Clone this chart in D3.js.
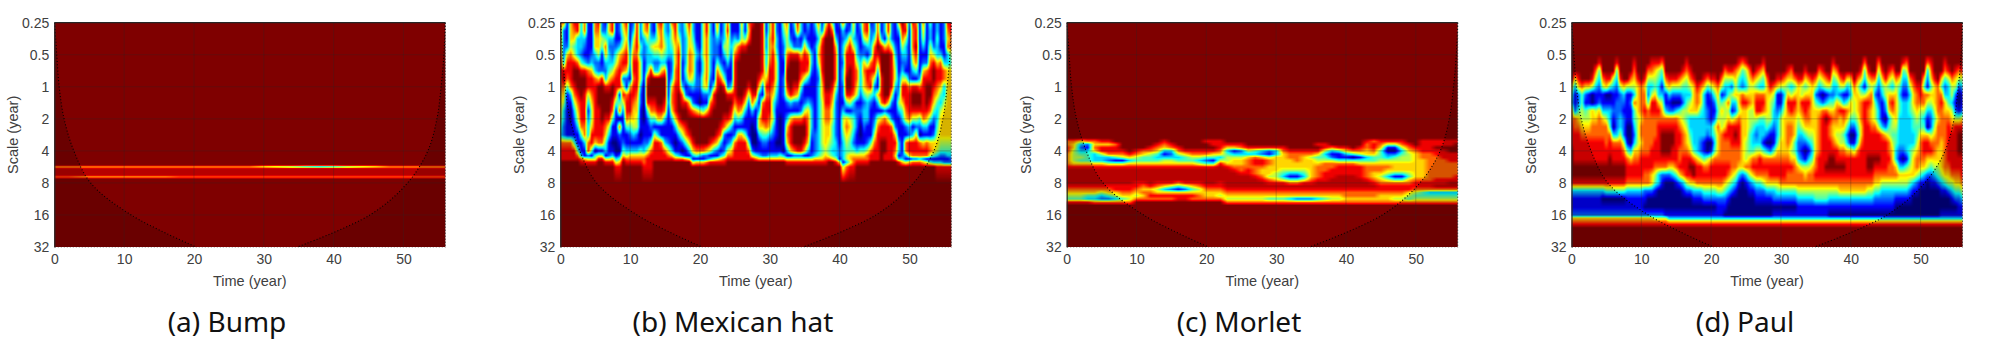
<!DOCTYPE html>
<html>
<head>
<meta charset="utf-8">
<script src="https://cdn.jsdelivr.net/npm/d3@7"></script>
<style>
  html, body { margin: 0; background: #fff; }
  svg { display: block; }
  text { font-family: "Liberation Sans", Arial, sans-serif; }
</style>
</head>
<body>
<div id="chart"></div>
<script>
// tick labels
const timeTicks = [0, 10, 20, 30, 40, 50];
const scaleTicks = [0.25, 0.5, 1, 2, 4, 8, 16, 32];
const captions = ["(a) Bump", "(b) Mexican hat", "(c) Morlet", "(d) Paul"];

// cone of influence
const coiScales = [0.25, 0.5, 1, 2, 4, 8, 16, 32];
const coiLeft = [0.05, 0.35, 0.7, 1.4, 2.8, 5.2, 11, 20.3];
const coiRight = [56, 55.8, 55.4, 54.8, 53.5, 50.6, 45.2, 34.8];

// colour levels, one string per time step
// 0 dark blue .. 3 cyan .. 6 yellow .. 8 red, a dark red, 9 darkest red
const bumpStep = 2;
const bumpOctaves = [4.44, 4.47, 4.50, 4.53, 4.58, 4.74, 4.78, 4.81, 4.84, 4.88];
const bumpLevels = [
  "986 8aa8789", "986 8aa8789", "986 8aa8689", "986 8aa8689", "986 8aa8689", "986 8aa8689",
  "986 8aa8689", "986 8aa8689", "986 8aa8689", "986 8aa8789", "986 8aa8789", "986 8aa8789",
  "986 8aa8789", "986 8aa8789", "986 8aa8789", "975 8aa8789", "974 8aa8789", "973 8aa8789",
  "962 8aa8789", "961 8aa8789", "962 8aa8789", "973 8aa8789", "974 8aa8789", "975 8aa8789",
  "986 8aa8789", "986 8aa8789", "986 8aa8789", "986 8aa8789", "986 8aa8789"
];

const hatStep = 0.5;
const hatOctaves = [0, .25, .5, .75, 1, 1.25, 1.5, 1.75, 2, 2.25, 2.5, 2.75, 3, 3.25, 3.5, 3.75, 4, 4.15, 4.25, 4.35, 4.5, 5, 7];
const hatLevels = [
  "77778987766654378889", "72222389765332 278889", "11126887411111178889", "66657888731001178889",
  "87645899875321 148889", "88333799987653 114789", "33332489998887 411378", "77321389988887 731168",
  "11111278853 21 378258".replace(" 21 ", "123"), "11112368876556 884158",
  "77663237888888 860458", "87665226999888 871589".replace(" ", ""), "22541128999998 871589".replace(" ", ""),
  "12476323899987 6431589".replace(" ", ""), "66323346899985 311258".replace(" ", ""), "88322357998741 101368".replace(" ", ""),
  "11124578874111 100135 8".replace(/ /g, ""), "22136788814707 210246 8".replace(/ /g, ""),
  "65457872585 21 1124 68".replace(/ /g, ""), "87678862178874 113 578".replace(/ /g, ""),
  "11123321688864 213678", "23567887887665 313 678".replace(/ /g, ""), "88887888876655 2136 78".replace(/ /g, ""),
  "22243555 3221110 1 4 6 7 8".replace(/ /g, ""), "66 3 2 2 1 1 1 0 0 0 0 0 1 1 2 3 6 7 7 8".replace(/ /g, ""),
  "87533348998 4211 257888".replace(/ /g, ""), "22353389 9987 421 478888".replace(/ /g, ""),
  "1136423 9 9 9 8 7 4 1 5 8 8 8 8 9".replace(/ /g, ""), "76564 2 3 9 9 9 9 8 6 1 3 8 8 8 8 9".replace(/ /g, ""),
  "87775 3 6 9 9 9 9 8 6 1 1 7 8 8 8 9".replace(/ /g, ""), "33454 3 7 9 9 9 8 7 3 1 1 3 7 8 8 9".replace(/ /g, ""),
  "22333 1 1 1 1 1 2 1 1 1 1 2 5 7 8 9".replace(/ /g, ""), "75543 2 2 3 6 7 7 6 3 1 1 1 3 6 8 9".replace(/ /g, ""),
  "88766 6 7 7 8 8 8 8 6 3 1 0 1 4 7 9".replace(/ /g, ""), "33578 8 8 8 8 9 9 9 8 6 3 1 1 3 7 9".replace(/ /g, ""),
  "22222 1 1 1 3 7 8 9 9 7 5 2 0 2 7 9".replace(/ /g, ""), "54333 3 4 3 1 2 8 9 9 8 7 4 1 1 6 9".replace(/ /g, ""),
  "87667 7 7 6 2 1 6 8 9 9 8 6 3 1 5 9".replace(/ /g, ""), "33456 6 6 5 3 1 2 7 9 9 9 8 6 3 1 5".replace(/ /g, ""),
  "11123 2 2 2 2 1 1 6 9 9 9 9 7 4 1 6".replace(/ /g, ""), "11112 1 1 2 2 1 0 5 9 9 9 9 7 3 1 6".replace(/ /g, ""),
  "55555 4 4 5 5 2 1 4 9 9 9 9 7 2 1 6".replace(/ /g, ""), "88777 7 7 7 6 2 1 6 9 9 9 9 6 2 2 7".replace(/ /g, ""),
  "33333 3 3 2 1 3 7 8 9 9 9 8 5 1 3 8".replace(/ /g, ""), "11222 1 1 1 4 8 8 9 9 9 9 7 3 1 4 8".replace(/ /g, ""),
  "76322 4 7 8 8 9 9 9 9 9 8 6 2 1 5 8".replace(/ /g, ""), "11211 2 4 7 9 9 9 9 9 8 7 3 1 3 6 8".replace(/ /g, ""),
  "33353 1 2 4 8 9 9 9 8 7 2 1 2 4 7 8".replace(/ /g, ""), "78655 3 1 1 2 8 9 9 8 5 1 2 5 7 8 9".replace(/ /g, ""),
  "11232 1 1 1 3 8 9 8 7 3 1 3 6 7 8 9".replace(/ /g, ""), "11357 8 8 8 8 8 7 5 3 1 2 7 8 8 8 9".replace(/ /g, ""),
  "11278 9 9 9 9 9 8 7 4 1 6 8 8 8 8 9".replace(/ /g, ""), "65589 9 9 9 9 9 8 6 3 1 6 8 8 8 8 9".replace(/ /g, ""),
  "11489 9 9 9 9 8 6 3 1 1 4 8 8 8 8 9".replace(/ /g, ""), "76799 9 9 9 8 5 2 1 1 1 1 4 7 8 8 9".replace(/ /g, ""),
  "89999 9 9 9 9 8 7 3 1 0 0 0 2 5 8 9".replace(/ /g, ""), "99999 9 9 9 9 8 4 1 1 1 0 0 1 4 7 9".replace(/ /g, ""),
  "99999 9 9 8 6 2 1 3 6 6 3 1 1 3 6 9".replace(/ /g, ""), "88888 8 8 6 2 1 7 8 8 6 4 2 1 2 6 9".replace(/ /g, ""),
  "11223 3 4 6 8 7 8 8 8 7 4 2 1 2 6 9".replace(/ /g, ""), "55666 7 8 8 8 7 8 8 7 6 3 1 1 3 6 9".replace(/ /g, ""),
  "88878 8 8 8 7 6 4 4 5 3 2 1 1 3 6 9".replace(/ /g, ""), "22334 5 5 5 4 3 2 1 1 1 1 0 1 3 6 9".replace(/ /g, ""),
  "11111 1 1 1 1 1 1 1 0 0 0 0 1 4 6 9".replace(/ /g, ""), "54322 1 1 2 2 2 1 1 1 1 1 1 0 3 6 9".replace(/ /g, ""),
  "76557 8 9 9 8 6 2 1 3 6 7 6 3 1 5 8".replace(/ /g, ""), "11248 9 9 9 9 8 3 1 6 8 8 8 6 1 5 8".replace(/ /g, ""),
  "32128 9 9 9 8 7 2 1 7 9 9 9 7 2 5 8".replace(/ /g, ""), "87228 9 9 9 8 6 2 1 7 9 9 9 8 2 5 8".replace(/ /g, ""),
  "33126 8 8 7 4 2 1 2 7 9 9 9 8 2 5 8".replace(/ /g, ""), "11368 8 8 5 1 1 2 5 8 9 9 8 6 1 5 8".replace(/ /g, ""),
  "32137 8 7 3 1 1 3 6 7 7 7 6 3 1 5 8".replace(/ /g, ""), "11113 3 2 1 1 1 2 3 3 3 2 1 1 2 5 8".replace(/ /g, ""),
  "32121 1 1 1 1 1 1 1 1 1 2 2 2 3 6 8".replace(/ /g, ""), "75356 5 3 2 3 3 3 3 3 3 3 3 3 4 6 8".replace(/ /g, ""),
  "12788 8 8 7 6 6 5 5 5 5 5 5 4 5 6 8".replace(/ /g, ""), "57999 9 9 9 9 8 8 7 7 6 6 6 5 6 7 8".replace(/ /g, ""),
  "89999 9 9 9 9 8 8 7 7 6 6 5 4 5 7 9".replace(/ /g, ""), "47999 9 9 9 8 7 6 5 5 4 4 4 3 4 6 9".replace(/ /g, ""),
  "11367 7 7 7 5 3 2 2 2 2 2 3 3 3 5 8".replace(/ /g, ""), "21111 1 1 1 1 1 1 1 1 1 1 1 2 2 1 6 9".replace(/ /g, ""),
  "73233 2 3 3 2 2 1 3 5 5 4 3 3 3 3 1 5".replace(/ /g, ""), "21368 8 8 9 9 8 4 1 6 7 6 5 4 5 5 3 7".replace(/ /g, ""),
  "12688 8 9 9 9 8 5 1 5 6 5 4 4 6 6 5 8".replace(/ /g, ""), "65358 8 8 8 8 7 3 2 4 4 3 2 4 6 7 7 8".replace(/ /g, ""),
  "11233 5 7 7 6 5 1 2 2 2 1 1 3 6 7 8".replace(/ /g, ""), "32112 3 3 3 3 2 1 2 1 0 0 1 4 6 7 8".replace(/ /g, ""),
  "77522 6 7 6 6 4 2 3 3 2 1 1 4 6 7 8".replace(/ /g, ""), "88631 4 8 8 7 5 3 3 3 1 1 2 5 7 7 8".replace(/ /g, ""),
  "12233 7 8 7 8 4 2 1 1 1 1 4 7 8 8 9".replace(/ /g, ""), "22478 8 8 5 2 3 1 1 2 3 5 7 8 8 8 9".replace(/ /g, ""),
  "77898 6 3 1 1 6 3 1 5 7 8 8 8 8 8 9".replace(/ /g, ""), "11389 9 9 8 8 8 7 1 6 8 8 9 9 9 9 9".replace(/ /g, ""),
  "33169 9 9 9 9 9 8 2 7 8 8 9 9 8 8 9".replace(/ /g, ""), "88579 9 9 9 9 9 6 1 5 8 8 8 8 8 8 9".replace(/ /g, ""),
  "22258 8 8 8 8 5 2 1 2 7 8 8 8 8 8 9".replace(/ /g, ""), "11123 4 5 5 3 1 1 1 1 2 6 8 7 6 7 9".replace(/ /g, ""),
  "63111 1 1 2 2 3 5 3 1 1 1 3 3 1 3 8".replace(/ /g, ""), "98753 2 3 5 8 8 6 4 3 1 1 1 1 2 3 6".replace(/ /g, ""),
  "78533 2 1 5 8 8 8 7 6 2 1 7 7 3 1 5".replace(/ /g, ""), "21111 1 1 2 7 8 8 8 7 3 2 8 8 6 1 6".replace(/ /g, ""),
  "87776 5 3 1 8 9 9 8 5 1 3 8 8 7 2 7".replace(/ /g, ""), "78898 7 4 1 8 9 9 8 5 2 6 8 8 7 2 7".replace(/ /g, ""),
  "11111 1 1 3 7 9 9 8 4 2 0 7 8 7 3 7".replace(/ /g, ""), "76531 2 6 8 8 8 8 8 7 3 1 6 8 7 2 6".replace(/ /g, ""),
  "11111 2 7 8 9 9 9 8 6 3 1 7 8 7 1 5".replace(/ /g, ""), "43356 7 8 8 9 9 8 7 4 1 1 6 7 5 1 4".replace(/ /g, ""),
  "11125 8 9 9 8 7 6 4 2 1 2 6 6 4 1 3".replace(/ /g, ""), "33433 6 8 8 7 6 4 3 3 4 5 6 5 3 1 3 8".replace(/ /g, ""),
  "11113 7 8 8 6 4 3 5 6 6 6 5 4 2 1 3 8".replace(/ /g, ""), "22211 3 7 7 3 3 5 6 6 6 6 5 4 2 1 2 8".replace(/ /g, ""),
  "87673 3 6 6 6 6 6 6 6 6 6 5 4 3 1 2 8".replace(/ /g, ""), "88775 4 6 6 6 6 6 6 6 6 6 5 4 3 2 2 8".replace(/ /g, "")
];

const morletStep = 1;
const morletOctaves = [3.6, 3.7, 3.8, 3.9, 4, 4.1, 4.2, 4.3, 4.4, 4.5, 4.6, 4.7, 4.8, 4.9, 5, 5.1, 5.2, 5.3, 5.4, 5.5, 5.6, 5.7];
const morletLevels = [
  "9778877778aaaaa8765489", "9766555568aaaaa8765489", "9632345468aaaaa8765489", "9721344468aaaaa8764389",
  "9767633368aaaaa8764379", "9868853368aaaaa8753279", "9868873258aaaaa8764279", "9978874158aaaaa8865379",
  "9999875158aaaaa8876479", "9999986368aaaaa8876579", "99998754 68aaaa8876579", "99997644 68aaaa8767679",
  "99987544 68aaaaa867879", "998764346 8aaaa8756879", "987631356 8aaaa8636879", "998732356 8aaaa8526879",
  "999875346 8aaaa7416889", "999986446 8aaaa8526889", "999987546 8aaaa8646879", "999987535 8aaaa8756779",
  "989987424 8aaaaa876679", "988986414 8aaaaa876679", "988876 3 5 8 aaaaa8 8 7 6 5 7 9", "9986345 5 6 8aaaaaa8 7 6 5 7 9",
  "998613566 7 8aaaaa8 7 6 5 7 9", "99872356 6 7 7 8aaaa8 7 6 5 7 9", "999853 6 7 7 7 8 8 aaaa 8 7 6 5 7 9", "999843788 7 7 7 8 aaa 8 7 6 5 7 9",
  "99983268 8 7 6 6 7 8 aa 8 7 6 5 7 9", "99982157 7 6 6 6 5 7 8 a 8 7 6 4 7 9", "99983366 6 6 6 5 5 6 8 a 8 7 6 4 7 9", "99987666 6 6 5 4 3 5 8 a 8 7 6 4 7 9",
  "99998776 6 6 5 3 1 4 7 a 8 7 6 3 7 9", "99998777 6 6 5 3 1 4 7 a 8 7 6 2 7 9", "99998766 6 6 5 4 3 5 8 a 8 7 6 2 7 9", "99998756 6 6 6 6 6 7 8 a 8 7 6 2 7 9",
  "99898645 6 7 7 7 7 8 a a 8 7 6 3 7 9", "99885345 7 7 7 8 8 8 a a 8 7 6 4 7 9", "99973125 7 7 8 8 8 a a a 8 7 6 5 7 9", "99984114 7 8 8 8 a a a a 8 7 6 5 7 9",
  "99986314 7 8 8 8 a a a a 8 7 7 6 7 9", "99997404 7 8 8 8 a a a a 8 7 7 6 7 9", "99987514 6 8 8 8 8 a a a 8 7 7 6 7 9", "98776634 6 7 7 7 7 8 a a 8 7 7 6 7 9",
  "97887644 6 7 7 6 6 7 8 a 8 7 7 6 7 9", "98764445 6 7 7 6 5 6 7 8 8 7 6 6 7 9", "98510235 6 7 6 5 3 5 7 8 8 7 6 6 7 9", "98510245 6 6 6 4 1 4 7 8 8 7 6 5 7 9",
  "98753455 6 6 6 4 1 4 7 8 8 7 6 5 7 9", "99876555 6 6 6 5 4 6 7 8 8 6 5 4 7 9", "99987666 6 6 6 6 6 7 8 8 7 5 4 5 7 9", "98888776 6 6 6 6 6 7 8 8 7 4 4 5 7 9",
  "98888777 7 7 7 7 7 7 8 8 7 3 4 5 7 9", "98898877 7 7 7 7 7 8 8 a 7 3 4 5 7 9", "98898887 7 7 7 7 7 8 8 a 7 3 4 5 7 9", "98899888 7 7 7 7 7 8 a a 7 3 4 5 7 9",
  "98999888 7 7 7 7 8 8 a a 7 3 4 5 7 9"
];

const paulStep = 0.5;
const paulOctaves = [0, 1, 1.25, 1.5, 1.75, 2, 2.25, 2.5, 2.75, 3, 3.25, 3.5, 3.75, 4, 4.25, 4.5, 4.75, 5, 5.25, 5.5, 5.75, 6, 6.1, 6.2, 6.3, 6.4, 7];
const paulLevels = [
  "99 9996437 78889999 83112 67899", "99 9963112 77888899 83112 67899", "99 9986224 67888899 83112 67899", "99 9997445 56788899 83112 67899",
  "99 9996214 56788899 83112 67899", "99 9996115 56788899 83112 67899", "99 9985006 67788899 83112 67899", "99 9753115 67788899 83112 67899",
  "99 8432126 77788899 83112 67899", "99 9975113 67788899 83012 67899", "99 9986013 57778899 84012 67899", "99 9984013 34788999 84012 67899",
  "99 9953112 10378899 84012 67899", "99 8432122 22378899 84012 67899", "99 9985222 33578899 84012 67899", "99 9996321 22257899 84012 67899",
  "99 9995111 10014788 73112 67899", "99 9975121 10003688 73112 67899", "99 8765374 43236788 73112 67899", "99 9986666 55556788 73112 67899",
  "99 9997777 67767888 73112 67899", "99 9986778 77777887 72102 67899", "99 9753247 77777887 72002 67899", "99 8753588 77778886 62002 67899",
  "99 8654688 77788875 41002 57899", "99 8543368 78888873 30002 57899", "99 7431356 78999872 10002 57899", "99 9975113 78999872 00001 57899",
  "99 9986312 78999862 00001 36899", "99 9985202 78998863 00001 36899", "99 9985203 78888874 10001 36899", "99 9975204 67887786 20001 36899",
  "99 9864325 56777887 31001 36899", "99 8754345 45667888 52001 36899", "99 9875356 33456898 62001 36899", "99 9986666 33334799 63101 36899",
  "99 9998776 33333688 73101 36899", "99 9997664 33322588 73101 36899", "99 9986333 33311478 74201 36899", "99 9974112 23200578 74201 36899",
  "99 9985211 13301688 74201 36899", "99 9986421 25434788 74201 36899", "99 9997654 57666788 75211 36899", "99 9975146 55777788 75211 36899",
  "99 9753255 56877788 64210 36899", "99 9853475 68877787 53100 36899", "99 9852531 58887776 42000 36899", "99 9765632 68987775 31000 36899",
  "99 8643665 78887763 10000 36899", "99 7432786 66666662 00000 36899", "99 8543686 66655573 10000 36899", "99 9765675 55444675 21000 36899",
  "99 9975665 54334786 31000 36899", "99 9864788 53235787 42100 36899", "99 9753788 43335887 42100 36899", "99 8643787 43314787 52100 36899",
  "99 9976666 54203787 63100 36899", "99 9998655 53102788 63100 36899", "99 9997543 32114788 63201 36899", "99 9986112 33346788 64201 36899",
  "99 9985113 55566788 74201 36899", "99 9975345 66666788 74201 36899", "99 9864687 67776787 74201 36899", "99 9763588 67765687 74201 36899",
  "99 9974687 66644677 74201 36899", "99 9986666 54322367 75311 36899", "99 9985587 65321257 75311 36899", "99 9864688 76420156 75311 36899",
  "99 9975687 76531357 75311 36899", "99 9986666 66543467 75311 36899", "99 9975246 66666778 75411 36899", "99 9753136 77777888 75411 36899",
  "99 9864027 88888888 75411 36899", "99 9975137 98888898 75411 36899", "99 9985246 87788998 75310 36899", "99 8643246 76678998 75310 36899",
  "99 9753367 76568898 75310 36899", "99 9975258 66557898 76310 36899", "99 9985138 76457898 76310 36899", "99 9963147 64236888 76310 36899",
  "99 9964366 42016888 76310 36899", "99 9997655 42015888 76310 36899", "99 9975666 54347888 76310 36899", "99 9863577 76678888 76310 36899",
  "99 7431588 88888888 76310 36899", "99 9864687 78888998 75310 36899", "99 9975776 67888998 75310 36899", "99 9974245 57888987 64210 36899",
  "99 7532123 35888987 64210 36899", "99 9864311 13788887 53210 36899", "99 9985532 02688887 53210 36899", "99 9864676 34577877 53210 36899",
  "99 9753687 55456677 53210 36899", "99 9975666 65443367 53100 36899", "99 9964344 33332136 53100 36899", "99 8432133 33332036 53100 36899",
  "99 7532133 33333146 53100 36899", "99 9975344 33334456 42100 36899", "99 9987665 44335666 31000 36899", "99 9998776 54456775 21000 36899",
  "99 9998875 44677764 10000 36899", "99 9964775 34688763 10000 36899", "99 7321753 10688652 00000 36899", "99 8764653 22578642 10000 36899",
  "99 9986665 45677653 10000 36899", "99 9997777 67776654 20000 36899", "99 9964787 77766665 31001 36899", "99 8742366 77777776 41001 36899",
  "99 9853346 78888876 52001 36899", "99 9975535 67888887 53101 36899", "99 9865212 58888887 64201 36899", "99 9752001 58999887 64211 36899",
  "99 9853112 68999888 75311 36899"
];

const jet = d3.scaleLinear()
  .domain([0, 1 / 8, 3 / 8, 5 / 8, 7 / 8, 1])
  .range(["#00007f", "#0000ff", "#00ffff", "#ffff00", "#ff0000", "#7f0000"])
  .clamp(true);
const lut = d3.range(256).map(i => d3.rgb(jet(i / 255)));

const margin = { top: 22.7, bottom: 104, width: 391 };
const innerHeight = 351 - margin.top - margin.bottom;

const panels = [
  { left: 54.3, capX: 227, step: bumpStep, octaves: bumpOctaves, levels: bumpLevels },
  { left: 560.3, capX: 733, step: hatStep, octaves: hatOctaves, levels: hatLevels },
  { left: 1066.7, capX: 1239, step: morletStep, octaves: morletOctaves, levels: morletLevels },
  { left: 1571.5, capX: 1745, step: paulStep, octaves: paulOctaves, levels: paulLevels }
];

function parseLevels(levels) {
  return levels.map(col => Array.from(col.replace(/\s/g, ""), ch => ch === "a" ? 8.5 : +ch));
}

// bilinear lookup of the read levels at time t, octave o
function levelAt(grid, octaves, step, t, o) {
  const ct = Math.max(0, Math.min(grid.length - 1.001, t / step));
  const c0 = Math.floor(ct), ft = ct - c0;
  let r1 = d3.bisectRight(octaves, o);
  r1 = Math.max(1, Math.min(octaves.length - 1, r1));
  const r0 = r1 - 1;
  const fo = Math.max(0, Math.min(1, (o - octaves[r0]) / (octaves[r1] - octaves[r0])));
  const get = (c, r) => { const v = grid[c][r]; return v === undefined ? 9 : v; };
  const a = get(c0, r0) * (1 - fo) + get(c0, r1) * fo;
  const b = get(c0 + 1, r0) * (1 - fo) + get(c0 + 1, r1) * fo;
  return a * (1 - ft) + b * ft;
}

const svg = d3.select("#chart").append("svg").attr("width", 2008).attr("height", 351);

panels.forEach((p, idx) => {
  const g = svg.append("g").attr("transform", `translate(${p.left},${margin.top})`);

  const x = d3.scaleLinear().domain([0, 56]).range([0, margin.width]);
  const y = d3.scaleLog().base(2).domain([0.25, 32]).range([0, innerHeight]);

  // scalogram goes to an offscreen canvas and into the svg as an image
  const grid = parseLevels(p.levels);
  const w = Math.round(margin.width), h = Math.round(innerHeight);
  const canvas = document.createElement("canvas");
  canvas.width = w; canvas.height = h;
  const ctx = canvas.getContext("2d");
  const img = ctx.createImageData(w, h);
  for (let j = 0; j < h; j++) {
    const o = Math.log2(y.invert((j + 0.5) * innerHeight / h) / 0.25);
    for (let i = 0; i < w; i++) {
      const t = x.invert((i + 0.5) * margin.width / w);
      const v = levelAt(grid, p.octaves, p.step, t, o);
      const c = lut[Math.round(v / 9 * 255)];
      const k = (j * w + i) * 4;
      img.data[k] = c.r; img.data[k + 1] = c.g; img.data[k + 2] = c.b; img.data[k + 3] = 255;
    }
  }
  ctx.putImageData(img, 0, 0);
  g.append("image").attr("href", canvas.toDataURL())
    .attr("width", margin.width).attr("height", innerHeight)
    .attr("preserveAspectRatio", "none");

  // shaded part outside the cone of influence
  const coiLeftPts = coiScales.map((s, i) => [coiLeft[i], s]);
  const coiRightPts = coiScales.map((s, i) => [coiRight[i], s]);
  const shade = edge => d3.area().curve(d3.curveCatmullRom)
    .x0(x(edge)).x1(d => x(d[0])).y(d => y(d[1]));
  g.append("path").attr("d", shade(0)(coiLeftPts)).attr("fill", "#000").attr("opacity", 0.16);
  g.append("path").attr("d", shade(56)(coiRightPts)).attr("fill", "#000").attr("opacity", 0.16);

  // grid lines
  g.append("g").selectAll("line").data(timeTicks.slice(1)).join("line")
    .attr("x1", d => x(d)).attr("x2", d => x(d)).attr("y1", 0).attr("y2", innerHeight)
    .attr("stroke", "#262626").attr("stroke-opacity", 0.28);
  g.append("g").selectAll("line").data(scaleTicks.slice(1, -1)).join("line")
    .attr("y1", d => y(d)).attr("y2", d => y(d)).attr("x1", 0).attr("x2", margin.width)
    .attr("stroke", "#262626").attr("stroke-opacity", 0.28);

  // dotted cone of influence
  const coiLine = d3.line().curve(d3.curveCatmullRom).x(d => x(d[0])).y(d => y(d[1]));
  [coiLeftPts, coiRightPts].forEach(pts => {
    g.append("path").attr("d", coiLine(pts)).attr("fill", "none")
      .attr("stroke", "#000").attr("stroke-width", 1.1).attr("stroke-dasharray", "1 2.2");
  });

  // axes
  const xAxis = g.append("g").attr("transform", `translate(0,${innerHeight})`)
    .call(d3.axisBottom(x).tickValues(timeTicks).tickSize(0).tickPadding(7).tickFormat(d3.format("d")));
  const yAxis = g.append("g")
    .call(d3.axisLeft(y).tickValues(scaleTicks).tickSize(0).tickPadding(5).tickFormat(d => d));
  xAxis.select(".domain").attr("stroke", "#bbb").attr("stroke-dasharray", "1 2");
  yAxis.select(".domain").attr("stroke", "#262626").attr("stroke-width", 1.2);
  [xAxis, yAxis].forEach(a => a.selectAll("text")
    .style("font-family", '"Liberation Sans", Arial, sans-serif').style("font-size", "14px").attr("fill", "#404040"));

  g.append("line").attr("x1", 0).attr("x2", margin.width).attr("y1", 0).attr("y2", 0)
    .attr("stroke", "#262626").attr("stroke-width", 1.2);
  g.append("line").attr("x1", margin.width).attr("x2", margin.width).attr("y1", 0).attr("y2", innerHeight)
    .attr("stroke", "#262626").attr("stroke-dasharray", "1 2");

  // axis labels
  g.append("text").attr("x", margin.width / 2).attr("y", 263).attr("text-anchor", "middle")
    .attr("font-size", "14.5px").attr("fill", "#404040").text("Time (year)");
  g.append("text").attr("transform", `translate(-36,${innerHeight / 2 - 0})rotate(-90)`)
    .attr("text-anchor", "middle").attr("font-size", "14.5px").attr("fill", "#404040").text("Scale (year)");

  // caption
  svg.append("text").attr("x", p.capX).attr("y", 332).attr("text-anchor", "middle")
    .style("font-family", '"Noto Sans", sans-serif').attr("font-size", "28px").attr("fill", "#111")
    .text(captions[idx]);
});
</script>
</body>
</html>
